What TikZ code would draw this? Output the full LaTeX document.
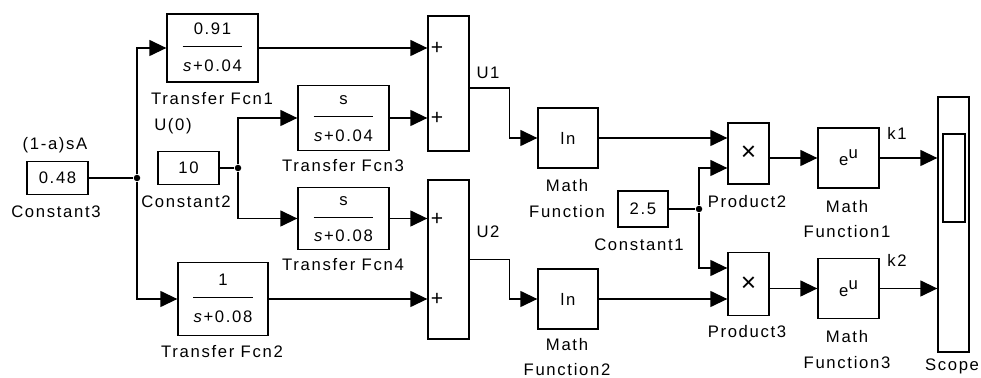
\documentclass[tikz,border=0pt]{standalone}
\usepackage{fontspec}
\setmainfont{Liberation Sans}[LetterSpace=10]
\usetikzlibrary{calc}
\usetikzlibrary{arrows.meta}

\newcommand{\tfbody}[2]{\begin{tabular}{@{}c@{}}\makebox[1.2cm]{#1}\\[2pt]\hline\rule{0pt}{14pt}#2\end{tabular}}

\begin{document}
\begin{tikzpicture}[x=0.02cm, y=-0.02cm,
    every node/.style={font=\fontsize{9.5pt}{14.7pt}\selectfont, inner sep=0pt},
    blk/.style={draw, line width=0.75pt},
    wire/.style={line width=0.75pt},
    sig/.style={line width=0.75pt, -{Triangle[length=0.34cm,width=0.32cm]}},
    dot/.style={circle, fill, minimum size=0.13cm}]

    \useasboundingbox (0,0) rectangle (981,378);

    % sources
    \node[blk, minimum width=1.22cm, minimum height=0.66cm] (c3) at (57.5,178) {0.48};
    \node[blk, minimum width=1.22cm, minimum height=0.66cm] (c2) at (188.5,168) {10};
    \node[blk, minimum width=1.0cm, minimum height=0.72cm] (c1) at (643,209) {2.5};
    \node[dot] (j3) at (137,178) {};
    \node[dot] (j2) at (238,168) {};
    \node[dot] (j1) at (699,209) {};

    % transfer functions
    \node[blk, minimum width=1.82cm, minimum height=1.36cm] (tf1) at (212.5,48) {\tfbody{0.91}{\textit{s}+0.04}};
    \node[blk, minimum width=1.82cm, minimum height=1.30cm] (tf3) at (343.5,118) {\tfbody{s}{\textit{s}+0.04}};
    \node[blk, minimum width=1.82cm, minimum height=1.22cm] (tf4) at (343.5,218.5) {\tfbody{s}{\textit{s}+0.08}};
    \node[blk, minimum width=1.80cm, minimum height=1.46cm] (tf2) at (223,299) {\tfbody{1}{\textit{s}+0.08}};

    % sums, ln, products, exp, scope
    \node[blk, minimum width=0.82cm, minimum height=2.70cm] (sum1) at (448.5,83.5) {};
    \node[blk, minimum width=0.82cm, minimum height=3.18cm] (sum2) at (448.5,259.5) {};
    \node[blk, minimum size=1.2cm] (ln1) at (568,138) {ln};
    \node[blk, minimum size=1.2cm] (ln2) at (568,299) {ln};
    \node[blk, minimum width=0.82cm, minimum height=1.22cm] (prod2) at (748.5,153.5) {\fontsize{15pt}{15pt}\selectfont ×};
    \node[blk, minimum width=0.82cm, minimum height=1.26cm] (prod3) at (748.5,284) {\fontsize{15pt}{15pt}\selectfont ×};
    \node[blk, minimum width=1.22cm, minimum height=1.2cm] (mf1) at (848.5,158) {e\raisebox{4pt}{u}};
    \node[blk, minimum width=1.22cm, minimum height=1.2cm] (mf3) at (848.5,288.5) {e\raisebox{4pt}{u}};
    \node[blk, minimum width=0.62cm, minimum height=5.1cm] (scope) at (953.5,224.5) {};
    \node[blk, minimum width=0.44cm, minimum height=1.76cm] (scopewin) at (954,178) {};

    % wires
    \draw[wire] (c3) -- (j3);
    \draw[sig] (j3) |- (tf1);
    \draw[sig] (j3) |- (tf2);
    \draw[wire] (c2) -- (j2);
    \draw[sig] (j2) |- (tf3);
    \draw[sig] (j2) |- (tf4);
    \draw[sig] (tf1) -- (sum1.west |- tf1);
    \draw[sig] (tf3) -- (sum1.west |- tf3);
    \draw[sig] (tf4) -- (sum2.west |- tf4);
    \draw[sig] (tf2) -- (sum2.west |- tf2);
    \draw[sig] ($(sum1.east)+(0,4.5)$) -- ++(40,0) |- (ln1);
    \draw[sig] (sum2.east) -- ++(40,0) |- (ln2);
    \draw[sig] (ln1) -- (prod2.west |- ln1);
    \draw[sig] (ln2) -- (prod3.west |- ln2);
    \draw[wire] (c1) -- (j1);
    \draw[sig] (j1) |- ($(prod2.west)+(0,14.5)$);
    \draw[sig] (j1) |- ($(prod3.west)+(0,-16)$);
    \draw[sig] (prod2.east |- mf1) -- (mf1);
    \draw[sig] (prod3.east |- mf3) -- (mf3);
    \draw[sig] (mf1) -- (scope.west |- mf1);
    \draw[sig] (mf3) -- (scope.west |- mf3);

    % labels
    \node at (437,48) {\large +};
    \node at (437,118) {\large +};
    \node at (437,219) {\large +};
    \node at (437,299) {\large +};
    \node at (55,145) {(1-a)sA};
    \node at (56,212) {Constant3};
    \node at (186,202) {Constant2};
    \node at (639,245) {Constant1};
    \node at (173,126) {U(0)};
    \node at (212,99) {Transfer Fcn1};
    \node at (343,166) {Transfer Fcn3};
    \node at (343,265) {Transfer Fcn4};
    \node at (222,352) {Transfer Fcn2};
    \node at (488,73) {U1};
    \node at (488,232) {U2};
    \node[align=center] at (567,198.5) {Math\\Function};
    \node[align=center] at (567,357) {Math\\Function2};
    \node at (747,202) {Product2};
    \node at (747,332) {Product3};
    \node[align=center] at (847,219) {Math\\Function1};
    \node[align=center] at (847,349.5) {Math\\Function3};
    \node at (897,133) {k1};
    \node at (897,260) {k2};
    \node at (952,366) {Scope};
\end{tikzpicture}
\end{document}
